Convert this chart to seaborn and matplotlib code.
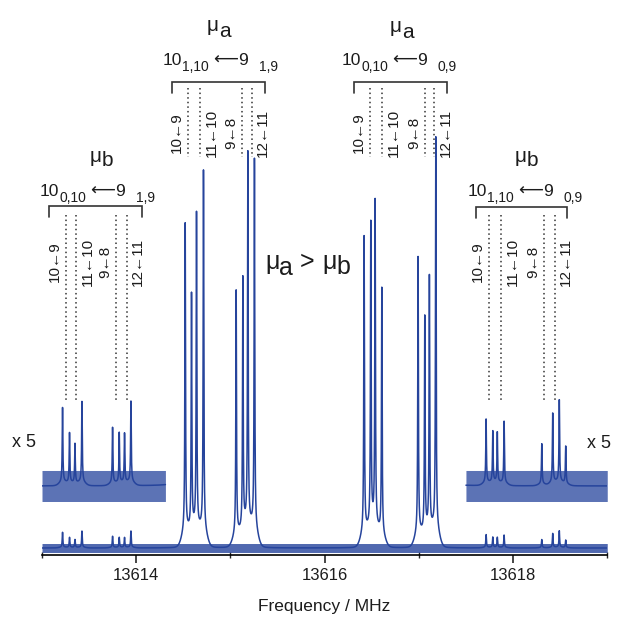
import matplotlib
matplotlib.use("Agg")
import matplotlib.pyplot as plt
import matplotlib.transforms as mtransforms
from matplotlib.ticker import MultipleLocator, FormatStrFormatter
import numpy as np
import seaborn as sns

# ── Data ──────────────────────────────────────────────────────────────────────
# line centres in MHz, intensities normalised to the strongest line (= 100)

A1_FREQ = [13614.520, 13614.587, 13614.640, 13614.714,
           13615.061, 13615.132, 13615.185, 13615.255]
A1_INT  = [78.9, 60.0, 80.4, 91.9, 62.5, 64.0, 95.0, 94.5]

A2_FREQ = [13616.419, 13616.490, 13616.536, 13616.607,
           13616.992, 13617.063, 13617.112, 13617.180]
A2_INT  = [75.7, 77.2, 82.8, 63.0, 70.8, 54.7, 64.5, 100.0]

B1_FREQ = [13613.218, 13613.292, 13613.350, 13613.424,
           13613.749, 13613.820, 13613.876, 13613.944]
B1_INT  = [3.82, 2.55, 2.01, 4.12, 2.84, 2.55, 2.50, 4.12]

B2_FREQ = [13617.714, 13617.785, 13617.833, 13617.905,
           13618.305, 13618.421, 13618.491, 13618.559]
B2_INT  = [3.24, 2.60, 2.55, 3.14, 2.06, 3.53, 4.17, 1.91]

# hyperfine component centres (dotted markers)
A1_COMP = [13614.549, 13614.679, 13615.121, 13615.228]
A2_COMP = [13616.483, 13616.607, 13617.066, 13617.165]
B1_COMP = [13613.257, 13613.363, 13613.788, 13613.901]
B2_COMP = [13617.745, 13617.870, 13618.329, 13618.446]
HF_LABELS = ["10←9", "11←10", "9←8", "12←11"]

ZOOM_WINDOWS = [(13613.0, 13614.31), (13617.50, 13619.0)]
ZOOM_FACTOR  = 5
ZOOM_OFFSET  = 15.2

# ── Style ────────────────────────────────────────────────────────────────────

BLUE  = "#26449c"
INK   = "#1c1c1c"
GAMMA_CORE, SIGMA_WING, WING_FRAC = 0.004, 0.035, 0.05
NOISE_MAIN, NOISE_ZOOM = 1.1, 3.8      # half-width of the noise band

sns.set_theme(style="white")
plt.rcParams["font.family"] = ["Liberation Sans", "DejaVu Sans"]

W = 617
fig = plt.figure(figsize=(W / 100, W / 100), dpi=100)
ax = fig.add_axes([42 / W, 62 / W, 565.25 / W, 555 / W])

# ── Spectrum ─────────────────────────────────────────────────────────────────

freq = np.linspace(13613.0, 13619.0, 24001)
centres = np.array(A1_FREQ + A2_FREQ + B1_FREQ + B2_FREQ)
heights = np.array(A1_INT + A2_INT + B1_INT + B2_INT)
d = freq[:, None] - centres[None, :]
shape = ((1 - WING_FRAC) * GAMMA_CORE**2 / (d**2 + GAMMA_CORE**2)
         + WING_FRAC * np.exp(-0.5 * (d / SIGMA_WING) ** 2))
sig = (shape * heights).sum(axis=1)

ax.fill_between(freq, -NOISE_MAIN, NOISE_MAIN, color=BLUE, lw=0, alpha=0.8)
sns.lineplot(x=freq, y=sig, ax=ax, color=BLUE, lw=1.1, estimator=None)

for lo, hi in ZOOM_WINDOWS:
    m = (freq >= lo) & (freq <= hi)
    yz = ZOOM_OFFSET + ZOOM_FACTOR * sig[m]
    ax.fill_between(freq[m], ZOOM_OFFSET - NOISE_ZOOM, ZOOM_OFFSET + NOISE_ZOOM,
                    color=BLUE, lw=0, alpha=0.75)
    sns.lineplot(x=freq[m], y=yz, ax=ax, color=BLUE, lw=1.1, estimator=None)

ax.set_xlim(13613.0, 13619.0)
ax.set_ylim(-7 / 4.08, 548 / 4.08)
ax.set_yticks([])
ax.xaxis.set_major_locator(MultipleLocator(2))
ax.xaxis.set_minor_locator(MultipleLocator(1))
ax.xaxis.set_major_formatter(FormatStrFormatter("%d"))
ax.tick_params(axis="x", which="major", direction="out", length=6, width=1.2,
               labelsize=12, labelcolor=INK, pad=3, bottom=True)
ax.tick_params(axis="x", which="minor", direction="inout", length=5, width=1.0,
               bottom=True)
for s in ["top", "left", "right"]:
    ax.spines[s].set_visible(False)
ax.spines["bottom"].set_color("black")
ax.spines["bottom"].set_linewidth(1.2)
ax.set_xlabel("Frequency / MHz", fontsize=12.5, color=INK, labelpad=12)
ax.patch.set_alpha(0)

# ── Annotation overlay (pixel coordinates) ───────────────────────────────────

ann = fig.add_axes([0, 0, 1, 1])
ann.set_xlim(0, W)
ann.set_ylim(W, 0)
ann.axis("off")
ann.patch.set_alpha(0)
blend = mtransforms.blended_transform_factory(ax.transData, ann.transData)
renderer = fig.canvas.get_renderer()


def chain(x, y, parts, color=INK):
    """Place text pieces one after another: (text, dy, size, gap_after)."""
    for s, dy, size, gap in parts:
        t = ann.text(x, y + dy, s, fontsize=size, color=color,
                     ha="left", va="baseline")
        x += t.get_window_extent(renderer=renderer).width + gap
    return x


def transition(x, y, lo, hi, ka, kb):
    chain(x, y, [(lo, 0, 12.5, 0), (ka, 6, 10, 4), ("⟵", 0, 12.5, 0),
                 (hi, 0, 12.5, 11), (kb, 6, 10, 0)])


def bracket(x0, x1, y, drop=11):
    ann.plot([x0, x0, x1, x1], [y + drop, y, y, y + drop], color="#333333",
             lw=1.2, solid_joinstyle="miter")


def components(comps, y0, y1, ylab):
    ann.vlines(comps, y0, y1, transform=blend, colors="#333333",
               linestyles=(0, (1, 2)), lw=1.1)
    for f, lab, dx in zip(comps, HF_LABELS, [-11, 12, -11, 11]):
        tr = blend + mtransforms.ScaledTranslation(dx / 100, 0, fig.dpi_scale_trans)
        ann.text(f, ylab, lab, transform=tr, rotation=90, fontsize=11,
                 color=INK, ha="center", va="center")


# μa groups (top)
chain(207, 31, [("μ", 0, 15, 0), ("a", 6, 15, 0)])
chain(390, 32, [("μ", 0, 15, 0), ("a", 6, 15, 0)])
transition(163, 65, "10", "9", "1,10", "1,9")
transition(342, 65, "10", "9", "0,10", "0,9")
bracket(172, 265, 82)
bracket(354, 447, 82)
components(A1_COMP, 88, 157, 133)
components(A2_COMP, 88, 157, 133)

# μb groups (sides)
chain(90, 162, [("μ", 0, 15, 0), ("b", 4, 15, 0)])
chain(515, 162, [("μ", 0, 15, 0), ("b", 4, 15, 0)])
transition(40, 196, "10", "9", "0,10", "1,9")
transition(468, 196, "10", "9", "1,10", "0,9")
bracket(49, 142, 206)
bracket(476, 567, 207)
components(B1_COMP, 215, 400, 262)
components(B2_COMP, 215, 400, 262)

chain(265, 269, [("μ", 0, 18, 0), ("a", 6, 18, 0), (" > ", 0, 18, 0),
                 ("μ", 0, 18, 0), ("b", 5, 18, 0)])

ann.text(12, 447, "x 5", fontsize=13, color=INK, ha="left", va="baseline")
ann.text(587, 448, "x 5", fontsize=13, color=INK, ha="left", va="baseline")

fig.savefig("out.png", dpi=100)
plt.close(fig)
